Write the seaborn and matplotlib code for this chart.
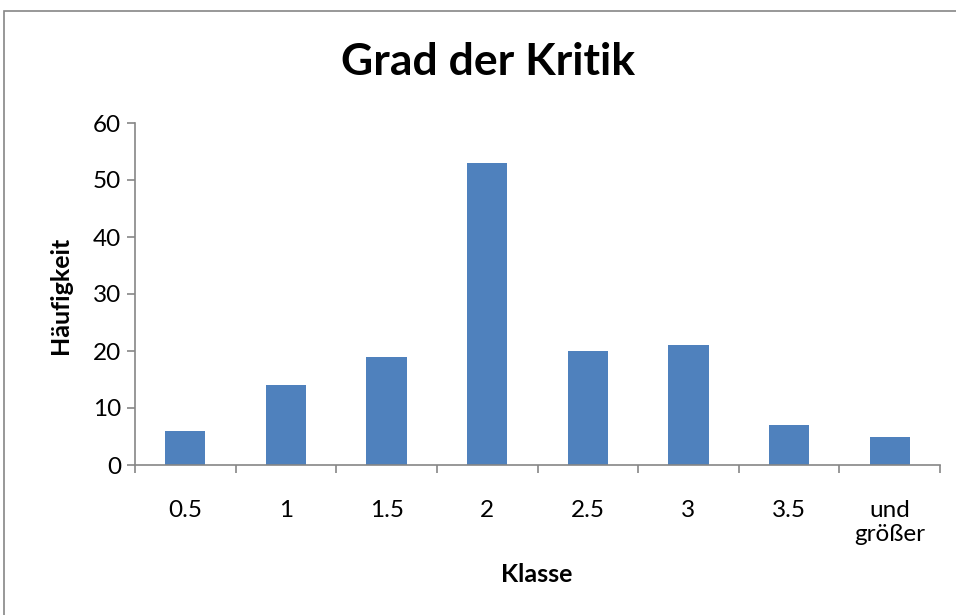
import matplotlib
matplotlib.use("Agg")
import matplotlib.pyplot as plt
import seaborn as sns
import pandas as pd
import numpy as np
from matplotlib.patches import Rectangle

categories = ["0.5", "1", "1.5", "2", "2.5", "3", "3.5", "und\ngrößer"]
values = [6, 14, 19, 53, 20, 21, 7, 5]
y_ticks = [0, 10, 20, 30, 40, 50, 60]

sns.set_theme(style="white")
plt.rcParams['font.family'] = ['Lato', 'DejaVu Sans']
plt.rcParams['text.color'] = 'black'
plt.rcParams['xtick.labelcolor'] = 'black'
plt.rcParams['ytick.labelcolor'] = 'black'

df = pd.DataFrame({"Klasse": categories, "Häufigkeit": values})

fig = plt.figure(figsize=(9.56, 6.15), dpi=100)
ax = fig.add_axes([135/956, 1-465/615, (940-135)/956, (465-123)/615])

sns.barplot(data=df, x="Klasse", y="Häufigkeit", color="#4F81BD", width=0.4,
            saturation=1, ax=ax, edgecolor="none")

ax.set_ylim(0, 60)
ax.set_xlim(-0.5, len(categories) - 0.5)
ax.set_yticks(y_ticks)
ax.tick_params(axis="y", which="major", direction="out", length=6, width=1.2,
               color="#868686", labelsize=17.5, pad=4, left=True, labelcolor="black")
ax.set_xticks(range(len(categories)))
ax.set_xticklabels(categories, fontsize=17.5, linespacing=1.2, va="top", color="black")
ax.tick_params(axis="x", which="major", length=0, pad=25)
ax.set_xticks(np.arange(-0.5, len(categories)), minor=True)
ax.tick_params(axis="x", which="minor", direction="out", length=6, width=1.2,
               color="#868686", bottom=True)

for s in ["top", "right"]:
    ax.spines[s].set_visible(False)
for s in ["left", "bottom"]:
    ax.spines[s].set_color("#868686")
    ax.spines[s].set_linewidth(1.2)

ax.set_xlabel("")
ax.set_ylabel("")
fig.text(60/956, 1-295/615, "Häufigkeit", rotation=90, ha="center", va="center",
         fontsize=18, fontweight="bold", color="black")
fig.text(537/956, 1-575/615, "Klasse", ha="center", va="center",
         fontsize=18, fontweight="bold", color="black")
fig.text(488/956, 1-62/615, "Grad der Kritik", ha="center", va="center",
         fontsize=32, fontweight="bold", color="black")

fig.patches.append(Rectangle((4/956, -0.1), 1.2, 1.1 - 11/615,
                             transform=fig.transFigure, fill=False,
                             edgecolor="#868686", linewidth=1.2))

fig.savefig("out.png", dpi=100)
